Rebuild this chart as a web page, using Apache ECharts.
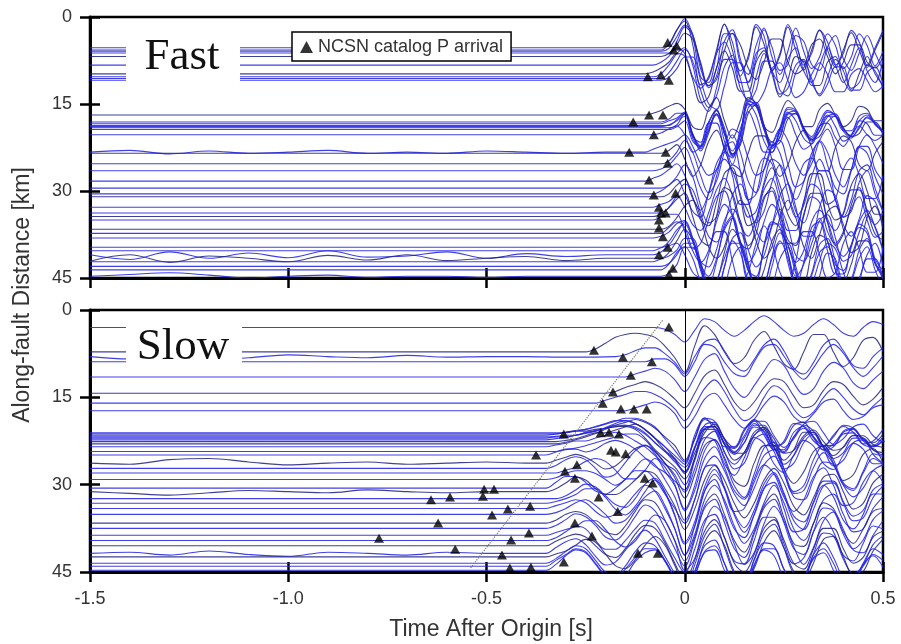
<!DOCTYPE html>
<html><head><meta charset="utf-8">
<script src="https://cdn.jsdelivr.net/npm/echarts@6/dist/echarts.min.js"></script>
<style>html,body{margin:0;padding:0;background:#fff}#c{width:901px;height:644px}</style>
</head><body><div id="c"></div>
<script>
// ---------- axis ticks ----------
const timeTicks = [-1.5, -1.0, -0.5, 0, 0.5];
const distTicks = [0, 15, 30, 45];

// ---------- FAST panel ----------
const fastBase = [5.3,5.7,5.9,6.2,8.3,9.8,10.3,10.6,10.9,16.9,18.1,18.4,18.7,19.1,19.4,20.3,23.3,23.5,25.3,28.3,30.5,31.0,32.8,33.8,35.0,36.6,38.1,39.7,41.0,41.6,42.2,43.6,44.7,
                  6.8,18.9,26.5,29.5,34.4,37.3,40.3,43.0];
const fastStart = -0.1;   // first wave sample time (s)
const fastStep = 0.02;    // wave sample spacing (s)
const fastWave = [
[0,0,0,-0.5,-3,-5,-2,5,6,1,-4,-1,4,2,-4,-2,4,1,-4,-1,3,1,-3,-1,3,1,-3,-1,3,0,-3],
[0,0,0,-1,-3.5,-5,-1,6,5,0,-4.5,0,4.5,1,-4,-1,3.5,1,-4,0,3.5,0,-3.5,0,3,0,-3,0,3,0,-3],
[0,0,0,-0.5,-2.5,-4.5,-3,3,6,3,-3,-3,2,4,-1,-4,1,4,0,-4,0,3,1,-3,-1,3,1,-3,-1,2.5,0],
[0,0,0,0,-2,-4.5,-3,2,6,4,-2,-4,1,5,1,-4,-1,3,2,-3,-2,2,3,-1,-3,1,3,0,-3,0,3],
[0,0,-0.5,-1.5,-3,-2,2,4,2,-2,-4,-1,3,3,-2,-3,1,3,-1,-3,1,3,0,-3,0,3,0,-3,1,3,-1],
[0,-0.3,-1,-2,-3.5,-3,1,5,4,-1,-4,-1,3,3,-2,-4,0,4,1,-3,-2,2,2,-2,-3,1,3,0,-3,0,2],
[0,0,-0.5,-2,-4,-5,-2,4,6,2,-3,-3,2,4,0,-4,-1,3,2,-2,-3,1,3,0,-3,-1,2,1,-2,-1,2],
[0,0,0,-1,-3,-5,-3,2,5,3,-2,-4,0,4,2,-3,-3,2,3,-1,-3,0,3,1,-2,-2,2,2,-1,-2,1],
[0,0,0,-0.5,-2,-4,-4,0,4,5,1,-3,-3,1,4,2,-2,-3,0,3,2,-1,-3,-1,2,2,-1,-2,0,2,1],
[0,-0.3,-0.8,-1.5,-2,-1,2,2.5,-1,-3,1,4,1,-3,-2,2,3,0,-2.5,-1,2,2,-1,-2,0,2,1,-1.5,-1,1,1],
[0,0,0,-0.5,-1.5,-1.5,2.5,3.5,0,-2,2,5,2,-3.5,-3,1,3.5,1,-2.5,-2,1,2.5,0,-2,-1,1.5,1.5,-1,-1.5,0.5,1.5],
[0,0,0,-0.5,-1,-2,2,4,0,-2.5,1.5,5.5,2,-4,-3,1,4,1.5,-2.5,-2,1,2.5,0.5,-2,-1.5,1,2,-0.5,-1.5,0,1.5],
[0,0,0,0,-1,-2,1.5,3.5,1,-2,1,5,3,-3,-4,0,3.5,2,-2,-2.5,0.5,2.5,1,-1.5,-2,0.5,2,0.5,-1.5,-0.5,1],
[0,0,0,0,-0.5,-2.5,1,4,1,-3,0,4.5,3,-2.5,-4,-0.5,3,2.5,-1.5,-2.5,0,2,1.5,-1,-2,0,1.5,1,-1,-1,1],
[0,0,0,0,-0.5,-1.5,2,3,-0.5,-2.5,2,6,1,-4.5,-2.5,2,4,0,-3,-1.5,1.5,2.5,-0.5,-2.5,-0.5,2,1,-1.5,-1,1,1],
[0,0,-0.3,-1,-1.5,0,3,2,-2,-2,2.5,4,-1,-4,-1,3,3,-1,-3,0,2.5,1.5,-1.5,-2,0.5,2,0,-1.5,0,1,0],
[0,-0.5,-1,-1.5,-2,-3,-1,2,4,3,-1,-4,-3,1,4,3,-1,-4,-2,2,4,2,-2,-4,-1,3,3,-1,-3,-1,2],
[0,0,0,-0.5,-1.5,1,4,2,-2,-4,-1,3,4,0,-3,-3,1,4,2,-2,-4,-1,3,3,-1,-3,-2,2,3,0,-2],
[0,0,0,-0.5,-2,-4,-2,2,5,3,-2,-5,-2,3,5,1,-3,-4,0,4,3,-1,-4,-2,2,4,1,-3,-3,1,3],
[0,-0.5,-1,-2,-3,-1,3,5,2,-3,-5,-1,4,4,-1,-4,-3,2,5,1,-3,-4,0,4,3,-2,-4,-1,3,3,-1],
[0,0,-0.5,-1.5,-3,-5,-3,2,5,4,-1,-5,-4,1,5,3,-2,-5,-2,3,5,1,-4,-4,1,4,3,-2,-4,0,3],
[0,0,0,-0.5,-2,-3,0,4,5,1,-4,-5,0,5,4,-2,-5,-2,3,5,1,-4,-4,1,4,3,-2,-4,-1,3,3],
[0,0,-0.5,-1,-2,0,3,4,1,-3,-5,-2,3,5,2,-3,-5,-1,4,4,-1,-4,-3,2,4,1,-3,-3,1,3,1],
[0,0,0,-1,-3,-5,-4,0,4,5,2,-3,-5,-2,3,5,2,-3,-5,-1,4,4,-1,-4,-3,2,4,1,-3,-2,2],
[0,0,-0.5,-1,-1,2,5,4,0,-4,-5,-1,4,5,1,-4,-5,0,4,4,-1,-4,-3,2,4,2,-2,-4,0,3,2],
[0,0,0,-0.5,-2,-4,-5,-2,3,5,3,-2,-5,-3,2,5,3,-2,-5,-2,3,5,1,-3,-4,0,4,3,-2,-4,0],
[0,0,-0.3,-1,-2.5,-3,0,4,5,2,-3,-5,-3,2,5,3,-2,-5,-2,3,4,1,-3,-4,0,4,3,-1,-4,-2,2],
[0,0,0,-1,-3,-4,-1,3,5,2,-3,-5,-1,4,5,0,-4,-4,1,5,3,-2,-5,-1,3,4,0,-4,-3,2,4],
[0,0,-0.5,-1.5,-2,0,3,4,0,-4,-4,1,5,3,-2,-5,-2,3,5,1,-4,-4,0,4,3,-2,-4,-1,3,3,-1],
[0,0,0,-1,-3,-5,-3,1,5,4,-1,-5,-3,2,5,2,-3,-5,-1,4,4,-1,-4,-3,2,4,1,-3,-3,1,3],
[0,0,-0.5,-1,-2,-4,-4,0,4,5,1,-4,-5,0,5,4,-1,-5,-3,2,5,2,-3,-4,0,4,3,-2,-4,0,3],
[0,0,0,-1,-3,-4,-2,2,4,2,-2,-5,-3,2,5,3,-2,-5,-2,3,5,1,-3,-4,0,4,2,-2,-4,0,3],
[0,0,0,-0.5,-2,-5,-5,-1,3,5,2,-3,-5,-2,3,5,2,-3,-5,-1,4,4,0,-4,-3,2,4,1,-3,-3,1],
[0,0,0,-0.5,-2,-4,-3,1,5,4,-1,-4,-2,2,4,1,-3,-3,1,3,2,-2,-3,0,3,1,-2,-2,1,2,0],
[0,0,0,-0.3,-1,-1.8,2,3.8,0.5,-2.2,1.2,5.2,2.5,-3.8,-3.5,0.5,3.8,1.8,-2.2,-2.2,0.8,2.5,0.8,-1.8,-1.8,0.8,2,0,-1.5,-0.5,1.2],
[0,0,-0.3,-1,-2.5,-4,-1,3,5,1,-4,-5,0,5,4,-2,-5,-3,2,5,2,-3,-5,-1,3,4,0,-4,-3,1,4],
[0,0,0,-0.5,-1.5,1,4,5,1,-3,-5,-3,1,5,4,-1,-5,-4,1,5,3,-2,-5,-2,2,5,2,-3,-4,0,4],
[0,0,-0.5,-1.5,-3,-4,0,4,5,0,-5,-4,1,5,3,-3,-5,-1,4,5,0,-4,-4,1,5,3,-2,-5,-1,3,4],
[0,0,0,-1,-2,-1,3,5,3,-2,-5,-3,2,5,3,-2,-5,-3,2,5,3,-2,-4,-2,2,4,2,-2,-4,-1,3],
[0,0,-0.5,-1,-3,-5,-2,3,6,2,-4,-6,-1,5,5,-1,-5,-4,2,6,2,-4,-5,0,4,4,-1,-4,-3,2,4],
[0,0,0,-0.5,-2,-4,-4,0,4,4,0,-4,-4,0,4,4,0,-4,-4,0,4,3,-1,-4,-3,1,4,2,-2,-4,0]
];
// pre-onset wiggles, sampled every 0.1 s from -1.5 s
const fastNoise = {
  16: [0,-0.3,0.3,-0.2,0.2,0,-0.3,0.2,0,0.2,-0.2,0,0.2,0],
  28: [0,0.8,-0.5,0.6,-0.3,0.5,-0.7,0.4,0.2,-0.5,0.6,-0.2,0.3,0],
  29: [0.5,-0.6,0.7,-0.4,0,0.6,-0.5,0.3,-0.6,0.4,0,-0.3,0.4,0],
  32: [0,-0.3,-0.6,-0.2,0.3,0,-0.2,0.2,0,0,0.2,0,0,0]
};
const fastPickTime = [-0.043,-0.02,-0.028,-0.06,-0.093,-0.04,-0.09,-0.055,-0.13,-0.078,-0.14,-0.048,-0.043,-0.09,-0.078,-0.023,-0.065,-0.06,-0.048,-0.065,-0.065,-0.055,-0.043,-0.065,-0.03,-0.04];
const fastPickDist = [4.4,5.0,5.7,10.0,10.3,10.9,16.9,16.9,18.1,20.3,23.3,23.3,25.2,28.1,30.7,30.4,32.8,33.8,33.8,35.0,36.4,37.9,39.7,41.0,43.3,44.4];

// ---------- SLOW panel ----------
const slowBase = [3.0,7.2,8.0,8.9,11.5,14.3,16.0,17.3,21.1,21.3,21.5,21.8,22.0,22.6,23.5,24.3,24.9,26.3,28.0,29.1,30.6,31.2,32.4,34.1,35.1,36.6,38.7,39.6,41.8,42.4,43.5,44.7,
                  22.3,23.0,27.2,33.2,37.5,40.5,44.0];
const slowStart = [-0.1,-0.25,-0.175,-0.1,-0.15,-0.2,-0.225,-0.15,-0.3,-0.35,-0.35,-0.35,-0.35,-0.35,-0.35,-0.35,-0.35,-0.35,-0.35,-0.35,-0.35,-0.35,-0.35,-0.35,-0.35,-0.35,-0.35,-0.35,-0.35,-0.35,-0.35,-0.35,
                   -0.35,-0.35,-0.35,-0.35,-0.35,-0.35,-0.35];
const slowStep = 0.025;
const slowWave = [
[0,0,0.3,1.2,2.5,0.5,-1.5,-1,0.5,1.5,0.5,-1,-2,-1,0.5,1.5,1,-0.5,-1.5,-0.5,1,1.5,0,-1,-0.5],
[0,-0.5,-1.5,-2.5,-3,-3.2,-3,-2.5,-1,1,3.5,-1,-4.5,-3,0,2,1,-2,-3.5,-1,2,3,0,-3,-3,0,2.5,1,-2,-2.5,0],
[0,-0.3,-1,-1.5,-1.5,-0.5,1,3,0,-2.5,-3,-1,1.5,2.5,0.5,-2,-3,-1,2,3,1,-2,-3,-1,1.5,2,0,-1.5],
[0,-0.5,-0.5,0.5,2.5,0,-3,-2.5,0,2,2.5,0,-2.5,-3,-1,1.5,3,1,-1.5,-3,-1.5,1,2.5,1,-1],
[0,-0.5,-1,-1.5,-1,0.5,2.5,0,-3,-4,-1,2,3.5,1.5,-1,-3,-2,1,3,2,-1,-2.5,-1.5,1,2,0.5,-1],
[0,-0.3,-1,-1.5,-2,-1.5,-0.5,1,2.5,0,-3,-4,-1.5,1.5,3,1.5,-1,-2.5,-2,0.5,2.5,2,-0.5,-2,-1.5,0.5,2,1,-1],
[0,-0.5,-1,-1.5,-2,-2,-1.5,-0.5,1,3,0.5,-2.5,-4,-2,1,3,2,-1,-3,-2,1,2.5,1.5,-1,-2.5,-1,1,2,0.5,-1],
[0,-0.5,-1,-1.5,-1,0.5,3,1,-2,-3,-1,1.5,3,1.5,-1,-2.5,-1.5,1,2,0.5,-1.5,-2,0,1.5,1,-0.5,-1],
[0,-0.3,-0.6,-1,-1.5,-2,-2.5,-2.5,-2,-1,1,3,5,1,-2.5,-2,1,2.5,0.5,-2,-2,0.5,2.5,1,-1.5,-2,0,2,1,-1,-1.5,0.5,1.5,0],
[0,0,-0.3,-0.5,-0.5,-0.8,-1,-1.5,-2,-2.5,-2,-1,0.5,2,4.5,1,-2.5,-1.5,1.5,2.5,-0.5,-2.5,-1,2,1.5,-1.5,-2,0.5,2,0.5,-1.5,-1,1,1.5,0],
[0,-0.2,-0.5,-0.8,-1,-1.5,-2,-2.5,-2.5,-2,-1,0.5,2,3.5,5,0,-3,-1,2,2,-1,-2.5,0,2.5,1,-2,-1.5,1,2,0,-1.5,-0.5,1.5,1,-1],
[0,0,0,-0.3,-0.6,-1,-1.5,-2,-2,-1.5,-0.5,1,2.5,4,6,2,-2,-2.5,0.5,2.5,1,-2,-2,1,2.5,0,-2,-1,1.5,1.5,-1,-1.5,0.5,1.5,0],
[0,-0.3,-0.5,-0.5,-1,-1.2,-1.8,-2.5,-3,-2.5,-1.5,0,1.5,3.5,5,1.5,-2,-2,1,2.5,0,-2.5,-1,2,2,-1,-2,0,2,1,-1,-1.5,0.5,1.5,0.5],
[0,0,-0.2,-0.5,-1,-1.5,-1.5,-2,-2.5,-3,-2,-0.5,1.5,3,5.5,2,-1.5,-3,-0.5,2,2,-1,-2.5,-0.5,2,1.5,-1,-2,0,1.5,1,-1,-1,0.5,1],
[0,-0.3,-0.6,-1,-1,-1.5,-2,-2.5,-2,-1,0,1.5,3,4,6.5,2,-3,-3,1,3,1,-2,-3,0,3,1.5,-1.5,-2.5,0,2,1,-1.5,-1.5,0.5,1.5],
[0,0,-0.3,-0.6,-1,-1.5,-2,-2.5,-3,-3,-2,0,2,4,7,3,-2,-3.5,0,3,2,-2,-3,0,3,2,-1.5,-3,-0.5,2.5,1.5,-1.5,-2,0.5,2],
[0,-0.5,-1,-1,-0.5,-1,-2,-2.5,-2,-1,0.5,2,3,4.5,6,1,-3,-2.5,1.5,3.5,0.5,-3,-2,1.5,3,0,-2.5,-1.5,1.5,2.5,0,-2,-1,1.5,1.5],
[0,-0.5,-1,-1.5,-1,0,1,0.5,-1,-2.5,-3,-2,0,2.5,6,2,-3,-4,-1,3,4,0,-3,-3,1,3.5,1.5,-2,-3,0,3,2,-1.5,-2.5,0],
[0,0,-0.5,-1,-2,-2.5,-2,-0.5,1,1,-0.5,-2.5,-1,2,6.5,3,-2.5,-4.5,-1,3,4.5,1,-3,-4,0,3.5,3,-1,-3.5,-1.5,2,3,0,-2.5,-1.5],
[0,-0.3,-1,-1.5,-1.5,-1,0,1,0,-2,-3.5,-2.5,0,3,7,3.5,-2,-4,-1.5,2.5,4.5,1.5,-2.5,-4,-1,3,3.5,0,-3,-2.5,1,3,1.5,-1.5,-2.5],
[0,-1,-2,-2,-1,0.5,1,0,-1.5,-3,-3,-1.5,1,3.5,6,2,-3.5,-4,0,4,3.5,-1,-4,-2.5,1.5,4,2,-2,-3.5,-0.5,3,2.5,-1,-3,-1],
[0,-0.5,-1.5,-2.5,-2,-0.5,0.5,0.5,-0.5,-2,-3.5,-3,-0.5,2.5,6.5,3,-2,-4.5,-2,2,4.5,2,-2,-4,-1.5,2.5,4,1,-2.5,-3,0,3,2,-1.5,-3],
[0,0,-0.5,-1.5,-2.5,-2,-0.5,1,1.5,0,-2.5,-3.5,-1,3,7.5,4,-2,-5,-2,2.5,5,2,-2.5,-4.5,-1,3,4,0.5,-3,-3,0.5,3,2,-1.5,-2.5],
[0,-0.5,-1,-1.5,-1,0.5,1.5,1,-0.5,-2.5,-4,-3,0,3.5,8,3,-3,-5,-1,3.5,5,1,-3.5,-4.5,0,4,3.5,-1,-4,-2,2,3.5,1,-2.5,-2.5],
[0,-0.3,-1,-2,-2.5,-1.5,0,1.5,1,-1,-3,-4,-1.5,2.5,7,3.5,-2.5,-5,-2.5,2,5,2.5,-2,-5,-2,2.5,4.5,1.5,-2.5,-3.5,0,3,2.5,-1,-3],
[0,-0.5,-1.5,-2,-1.5,0,1.5,2,0.5,-2,-4,-3.5,-0.5,3,6.5,2.5,-3,-5,-1.5,3,5,1.5,-3,-5,-1,3.5,4,0,-3.5,-2.5,1.5,3.5,1,-2,-2.5],
[0,-0.5,-1,-1.5,-2.5,-2.5,-1,1,2,1,-1.5,-3.5,-2.5,1,6,4,-2,-5,-3,1.5,5,3,-2,-5,-2.5,2,5,2,-2.5,-4,-1,2.5,3,0,-2.5],
[0,-0.5,-1.5,-2.5,-2,0,1.5,1.5,0,-2,-3.5,-3,0,3,5.5,1.5,-3.5,-4.5,-0.5,3.5,4,0,-4,-4,0.5,4,3,-1.5,-4,-1.5,2.5,3.5,0.5,-2.5,-2],
[0,-1,-2,-2.5,-1.5,0.5,2,1.5,-0.5,-2.5,-4,-2.5,0.5,3.5,6,2,-3,-5,-1,3.5,5,1,-3.5,-5,-1,3.5,4,0,-3.5,-3,1,3.5,2,-1.5,-3],
[0,-0.5,-1,-2,-3,-2.5,-0.5,1.5,2,0.5,-2,-3.5,-2,1.5,5,2.5,-2.5,-4.5,-2,2.5,4.5,2,-2.5,-4.5,-1.5,2.5,4,1,-3,-3.5,0,3,2.5,-1,-3],
[0,-0.8,-2,-3,-2.5,-0.5,1.5,2,0.5,-2,-3.5,-3,-0.5,2.5,5,1.5,-3,-4,0,3.5,3.5,-0.5,-3.5,-3,1,3.5,2.5,-1.5,-3.5,-1,2.5,3,0,-2.5,-1.5],
[0,-1,-2.5,-3.5,-3,-1,1,2,1,-1.5,-3,-3.5,-1.5,1.5,4,1,-3,-3.5,0,3,3,-1,-3.5,-2.5,1.5,3.5,1.5,-2,-3,0,3,2,-1,-2.5,-0.5],
[0,-0.2,-0.4,-0.8,-1.2,-1.6,-2,-2.2,-2.5,-2.2,-1.2,0.5,2,3.8,5.5,1.5,-2,-2.2,0.8,2.5,0.5,-2.2,-1.5,1.5,2.2,-0.5,-2,-0.5,1.8,1.2,-1,-1.2,0.8,1.2,0],
[0,0,-0.3,-0.7,-1.2,-1.8,-2.5,-3,-3,-2.5,-1,1,2.5,4,6,2.5,-2.5,-3,0,2.8,1.5,-2,-2.8,0.5,2.8,1,-2,-2,0.5,2,0.5,-1.5,-1,1,1.5],
[0,-0.5,-1.5,-2,-1.5,0,1.5,1,-1,-3,-4,-2.5,0.5,3,7,3,-3,-5,-1.5,3,5,1,-3.5,-4.5,0,4,3,-1.5,-4,-1.5,2.5,3.5,0.5,-2.5,-2],
[0,-0.3,-0.8,-1.5,-2.5,-2.5,-1,1,2,0.5,-2,-4,-2,2,7,4,-2,-5,-2.5,2,5,2,-2.5,-5,-1.5,3,4.5,1,-3,-3.5,0,3,2.5,-1,-3],
[0,-0.5,-1.5,-2.5,-2,-0.5,1.5,2,0.5,-2,-4,-3,0,3.5,6.5,2,-3.5,-5,-1,3.5,5,1,-3.5,-5,-1,3.5,4.5,0.5,-3.5,-3,1,3.5,2,-1.5,-3],
[0,-0.8,-1.5,-2,-1.5,0,1.5,2,0.5,-2,-3.5,-3,-0.5,3,6,2.5,-2.5,-4.5,-1.5,3,4.5,1.5,-3,-4.5,-1,3,4,0.5,-3,-3,0.5,3,2,-1.5,-2.5],
[0,-1,-2,-3,-2.5,-0.5,1.5,2,0.5,-1.5,-3,-3,-1,2,4.5,1.5,-2.5,-3.5,-0.5,3,3.5,0,-3,-3,0.5,3,2,-1.5,-3,-0.5,2.5,2.5,0,-2,-1]
];
const slowNoise = {
  2:  [0,0.4,-0.3,0.5,0.2,-0.3,0,0.2,-0.2,0.1,0,0,0.1,0],
  17: [0,0.2,-0.6,-0.8,-0.2,0.3,0,-0.2,0.2,0,-0.2,0],
  21: [0,0.3,0.6,0.2,-0.2,0,0.2,-0.3,0,0.2,0,0],
  28: [0,-0.2,0.3,-0.4,0.2,0.5,-0.2,0,0.3,-0.2,0,0]
};
const slowPickTime = [-0.040,-0.229,-0.156,-0.083,-0.136,-0.181,-0.207,-0.161,-0.128,-0.096,-0.305,-0.212,-0.191,-0.166,-0.186,-0.174,-0.149,-0.375,-0.272,-0.302,-0.277,-0.101,-0.081,-0.506,-0.481,-0.509,-0.217,-0.169,-0.446,-0.390,-0.486,-0.277,-0.393,-0.438,-0.234,-0.579,-0.461,-0.118,-0.068,-0.305,-0.441,-0.388,-0.640,-0.592,-0.622,-0.771];
const slowPickDist = [2.9,6.9,8.1,8.9,11.2,14.1,16.0,17.0,17.0,17.0,21.3,21.1,21.0,21.3,24.1,24.4,24.7,24.9,26.6,27.7,28.9,28.9,29.7,30.8,30.8,32.0,32.1,34.6,34.2,33.7,35.2,36.6,38.3,39.5,38.8,41.1,42.1,41.8,41.8,43.3,44.3,44.2,32.6,32.1,36.6,39.2];
// dotted move-out line
const slowFrontTime = [-0.54, -0.055];
const slowFrontDist = [44.3, 1.7];

// ---------- build ----------
function buildTrace(base, start, step, wave, noise) {
  const pts = [];
  if (noise) {
    noise.forEach((v, k) => {
      const t = -1.5 + 0.1 * k;
      if (t < start - 0.04) pts.push([+t.toFixed(3), base + v]);
    });
  } else {
    pts.push([-1.5, base]);
  }
  wave.forEach((v, k) => pts.push([+(start + step * k).toFixed(4), base + v]));
  return pts;
}
const FONT = 'Liberation Sans, Arial, sans-serif';
const blue = 'rgba(36,36,232,0.88)';
const navy = 'rgba(30,30,135,0.85)';
const series = [];
fastBase.forEach((b, i) => {
  series.push({
    type: 'line', xAxisIndex: 0, yAxisIndex: 0, silent: true,
    data: buildTrace(b, fastStart, fastStep, fastWave[i], fastNoise[i]),
    symbol: 'none', smooth: 0.35, z: 2,
    lineStyle: { width: 1.1, color: i % 4 === 1 ? navy : blue }
  });
});
slowBase.forEach((b, i) => {
  series.push({
    type: 'line', xAxisIndex: 2, yAxisIndex: 2, silent: true,
    data: buildTrace(b, slowStart[i], slowStep, slowWave[i], slowNoise[i]),
    symbol: 'none', smooth: 0.35, z: 2,
    lineStyle: { width: 1.1, color: i % 4 === 1 ? navy : blue }
  });
});
// zero-time reference lines
[0, 2].forEach(ax => series.push({
  type: 'line', xAxisIndex: ax, yAxisIndex: ax, data: [], silent: true, z: 3,
  markLine: { silent: true, symbol: 'none', animation: false, label: { show: false },
    lineStyle: { color: '#000', width: 1, type: 'solid' }, data: [{ xAxis: 0 }] }
}));
series.push({
  type: 'line', xAxisIndex: 2, yAxisIndex: 2, silent: true, z: 4, symbol: 'none',
  data: slowFrontTime.map((t, i) => [t, slowFrontDist[i]]),
  lineStyle: { type: 'dotted', color: '#777', width: 1.2 }
});
series.push({
  type: 'scatter', name: 'NCSN catalog P arrival', xAxisIndex: 0, yAxisIndex: 0, z: 5,
  symbol: 'triangle', symbolSize: [10, 9], itemStyle: { color: '#000' },
  data: fastPickTime.map((t, i) => [t, fastPickDist[i]])
});
series.push({
  type: 'scatter', name: 'NCSN catalog P arrival', xAxisIndex: 2, yAxisIndex: 2, z: 5,
  symbol: 'triangle', symbolSize: [10, 9], itemStyle: { color: '#000' },
  data: slowPickTime.map((t, i) => [t, slowPickDist[i]])
});

function xAx(grid, labels, inside) {
  return {
    type: 'value', gridIndex: grid, position: 'bottom',
    min: timeTicks[0], max: timeTicks[timeTicks.length - 1], interval: 0.5,
    axisLine: { show: !inside, onZero: false, lineStyle: { color: '#000', width: 3 } },
    axisTick: { show: true, inside: inside, length: 10, lineStyle: { color: '#000', width: 2.5 } },
    axisLabel: { show: labels && !inside, margin: 18, fontSize: 18, color: '#333', fontFamily: FONT,
      formatter: v => (v === 0 ? '0' : v.toFixed(1)) },
    splitLine: { show: false }
  };
}
function yAx(grid, inside) {
  return {
    type: 'value', gridIndex: grid, position: 'left', inverse: true,
    min: distTicks[0], max: distTicks[distTicks.length - 1], interval: 15,
    axisLine: { show: !inside, onZero: false, lineStyle: { color: '#000', width: 3 } },
    axisTick: { show: true, inside: inside, length: 10, lineStyle: { color: '#000', width: 2.5 } },
    axisLabel: { show: !inside, margin: 18, fontSize: 18, color: '#333', fontFamily: FONT },
    splitLine: { show: false }
  };
}

const chart = echarts.init(document.getElementById('c'), null, { renderer: 'canvas' });
chart.setOption({
  animation: false,
  backgroundColor: '#fff',
  grid: [
    { left: 90, top: 17, width: 793, height: 261, show: true, borderColor: '#000', borderWidth: 2.5, backgroundColor: 'transparent' },
    { left: 90, top: 310, width: 793, height: 262, show: true, borderColor: '#000', borderWidth: 2.5, backgroundColor: 'transparent' }
  ],
  xAxis: [xAx(0, false, false), xAx(0, false, true), xAx(1, true, false), xAx(1, true, true)],
  yAxis: [yAx(0, false), yAx(0, true), yAx(1, false), yAx(1, true)],
  legend: {
    data: [{ name: 'NCSN catalog P arrival', icon: 'triangle' }],
    left: 292, top: 32, selectedMode: false,
    backgroundColor: '#fff', borderColor: '#000', borderWidth: 1.5, borderRadius: 0,
    padding: [6, 8, 5, 8], itemWidth: 13, itemHeight: 12, itemGap: 5,
    textStyle: { fontSize: 18, color: '#333', fontFamily: FONT }
  },
  graphic: [
    { type: 'rect', z: 50, shape: { x: 126, y: 35, width: 114, height: 49 }, style: { fill: '#fff' } },
    { type: 'text', z: 51, x: 182, y: 57, style: { text: 'Fast', fill: '#111', font: '45px "Liberation Serif", "Times New Roman", serif', align: 'center', verticalAlign: 'middle' } },
    { type: 'rect', z: 50, shape: { x: 126, y: 321, width: 116, height: 47 }, style: { fill: '#fff' } },
    { type: 'text', z: 51, x: 183, y: 347, style: { text: 'Slow', fill: '#111', font: '45px "Liberation Serif", "Times New Roman", serif', align: 'center', verticalAlign: 'middle' } },
    { type: 'text', z: 51, x: 23, y: 295, rotation: Math.PI / 2, style: { text: 'Along-fault Distance [km]', fill: '#333', font: '23px "Liberation Sans", Arial, sans-serif', align: 'center', verticalAlign: 'middle' } },
    { type: 'text', z: 51, x: 491, y: 630, style: { text: 'Time After Origin [s]', fill: '#333', font: '23px "Liberation Sans", Arial, sans-serif', align: 'center', verticalAlign: 'middle' } }
  ],
  series: series
});
</script>
</body></html>
